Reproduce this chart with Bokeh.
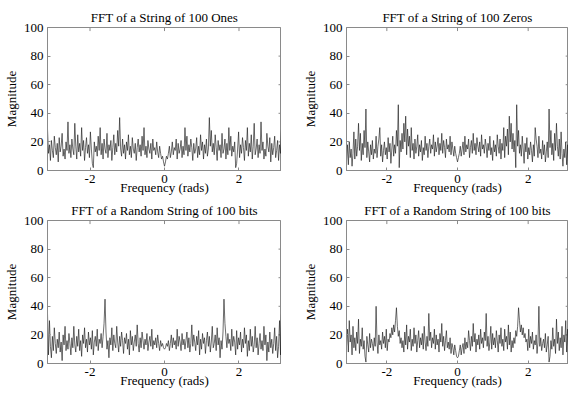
import numpy as np
from bokeh.plotting import figure
from bokeh.layouts import column, row, Spacer
from bokeh.models import Range1d, FixedTicker
from bokeh.embed import file_html
from bokeh.resources import INLINE

titles = ["FFT of a String of 100 Ones", "FFT of a String of 100 Zeros",
          "FFT of a Random String of 100 bits", "FFT of a Random String of 100 bits"]
x_label = "Frequency (rads)"
y_label = "Magnitude"
x_ticks = [-2, 0, 2]
y_ticks = [0, 20, 40, 60, 80, 100]

# frequency bins from -pi to pi
freq = np.linspace(-np.pi, np.pi, 241)

mag_ones = [29, 12, 18, 7, 21, 14, 9, 24, 16, 11,
            19, 6, 23, 13, 17, 26, 10, 15, 8, 20,
            14, 34, 12, 18, 9, 22, 15, 11, 33, 17,
            8, 25, 13, 19, 10, 30, 14, 21, 7, 16,
            23, 12, 18, 9, 27, 15, 5, 2, 20, 13,
            17, 10, 24, 14, 30, 11, 19, 8, 22, 15,
            12, 26, 9, 18, 14, 21, 7, 16, 25, 11,
            19, 13, 28, 17, 37, 15, 10, 22, 12, 18,
            8, 20, 14, 25, 11, 17, 9, 23, 15, 12,
            19, 7, 16, 22, 13, 18, 10, 24, 14, 30,
            11, 17, 9, 21, 15, 12, 19, 8, 22, 14,
            16, 11, 20, 13, 9, 17, 12, 8, 10, 6,
            3,
            6, 10, 8, 12, 17, 9, 13, 20, 11, 16,
            14, 22, 8, 19, 12, 15, 21, 9, 17, 11,
            30, 14, 24, 10, 18, 13, 22, 16, 7, 19,
            12, 15, 23, 9, 17, 11, 25, 14, 20, 8,
            18, 12, 22, 10, 15, 37, 17, 28, 13, 19,
            11, 25, 16, 7, 21, 14, 18, 9, 26, 12,
            15, 22, 8, 19, 11, 30, 14, 24, 10, 17,
            13, 20, 2, 5, 15, 27, 9, 18, 12, 23,
            16, 7, 21, 14, 30, 10, 19, 13, 25, 8,
            17, 33, 11, 15, 22, 9, 18, 12, 34, 14,
            20, 8, 15, 10, 26, 17, 13, 23, 6, 19,
            11, 16, 24, 9, 14, 21, 7, 18, 12, 29]

mag_zeros = [6, 18, 4, 20, 9, 15, 3, 12, 27, 8,
             22, 10, 17, 33, 14, 26, 7, 19, 11, 28,
             16, 43, 9, 20, 13, 6, 18, 11, 21, 8,
             15, 12, 24, 9, 17, 22, 30, 10, 18, 6,
             14, 20, 11, 16, 8, 23, 13, 19, 5, 15,
             24, 10, 18, 12, 28, 17, 46, 2, 21, 13,
             26, 15, 33, 20, 38, 11, 29, 17, 24, 9,
             30, 14, 19, 8, 22, 12, 17, 25, 10, 18,
             13, 21, 7, 16, 11, 24, 14, 19, 9, 17,
             22, 12, 18, 15, 25, 10, 20, 13, 17, 23,
             11, 19, 14, 26, 12, 21, 16, 9, 22, 15,
             18, 13, 24, 11, 20, 15, 10, 17, 12, 9,
             6,
             9, 12, 17, 10, 15, 20, 11, 24, 13, 18,
             15, 22, 9, 16, 21, 12, 26, 14, 19, 11,
             23, 17, 13, 20, 10, 25, 15, 18, 12, 22,
             17, 9, 19, 14, 24, 11, 16, 7, 21, 13,
             18, 10, 25, 17, 12, 22, 8, 19, 14, 30,
             9, 24, 17, 29, 11, 38, 20, 33, 15, 26,
             13, 21, 2, 46, 17, 28, 12, 18, 10, 24,
             15, 5, 19, 13, 23, 8, 16, 11, 20, 14,
             6, 18, 10, 30, 22, 17, 9, 24, 12, 15,
             8, 21, 11, 18, 6, 13, 20, 9, 43, 16,
             28, 11, 19, 7, 26, 14, 33, 17, 10, 22,
             8, 27, 12, 3, 15, 9, 20, 4, 18, 6]

mag_rand1 = [35, 6, 30, 12, 4, 19, 9, 25, 14, 7,
             17, 11, 22, 8, 15, 2, 20, 13, 26, 9,
             16, 10, 21, 14, 6, 18, 11, 26, 13, 8,
             19, 12, 24, 9, 16, 5, 20, 14, 25, 11,
             17, 8, 22, 13, 18, 10, 23, 6, 15, 19,
             12, 24, 9, 17, 14, 21, 11, 19, 28, 45,
             22, 10, 16, 4, 18, 13, 25, 9, 20, 14,
             11, 26, 15, 8, 19, 12, 22, 16, 7, 18,
             14, 21, 10, 17, 6, 23, 13, 19, 9, 15,
             20, 12, 27, 14, 8, 18, 11, 22, 16, 10,
             17, 13, 21, 9, 15, 19, 12, 24, 10, 16,
             13, 18, 11, 20, 14, 9, 16, 12, 14, 11,
             10,
             11, 14, 12, 16, 9, 14, 20, 11, 18, 13,
             16, 10, 24, 12, 19, 15, 9, 21, 13, 17,
             10, 16, 22, 11, 18, 8, 14, 27, 12, 20,
             15, 9, 19, 13, 23, 6, 17, 10, 21, 14,
             18, 7, 16, 22, 12, 19, 8, 15, 26, 11,
             14, 20, 9, 25, 13, 18, 4, 16, 10, 22,
             45, 28, 19, 11, 21, 14, 17, 9, 24, 12,
             19, 15, 6, 23, 10, 18, 13, 22, 8, 17,
             11, 25, 14, 20, 5, 16, 9, 24, 12, 19,
             8, 13, 26, 11, 18, 6, 14, 21, 10, 16,
             9, 26, 13, 20, 2, 15, 8, 22, 11, 17,
             7, 14, 25, 9, 19, 4, 12, 30, 6, 35]

mag_rand2 = [12, 24, 8, 30, 15, 20, 6, 26, 11, 18,
             9, 22, 14, 31, 7, 17, 12, 25, 10, 16,
             5, 1, 19, 13, 8, 21, 11, 17, 14, 9,
             18, 12, 40, 15, 7, 20, 13, 16, 10, 22,
             14, 19, 11, 24, 9, 17, 15, 21, 18, 25,
             20, 27, 22, 30, 39, 26, 19, 23, 14, 18,
             11, 16, 8, 22, 13, 27, 10, 19, 15, 24,
             9, 17, 12, 25, 14, 20, 8, 16, 23, 11,
             18, 13, 21, 10, 26, 15, 9, 19, 12, 35,
             16, 22, 11, 18, 14, 24, 10, 20, 13, 17,
             8, 21, 15, 28, 12, 19, 9, 16, 23, 11,
             15, 10, 18, 7, 14, 11, 6, 13, 9, 5,
             4,
             5, 9, 13, 6, 11, 14, 7, 18, 10, 15,
             11, 23, 16, 9, 19, 12, 28, 15, 21, 8,
             17, 13, 20, 10, 24, 14, 18, 11, 22, 16,
             35, 12, 19, 9, 15, 26, 10, 21, 13, 18,
             11, 23, 16, 8, 20, 14, 25, 12, 17, 9,
             24, 15, 19, 10, 27, 13, 22, 8, 16, 11,
             18, 14, 23, 19, 26, 39, 30, 22, 27, 20,
             25, 18, 21, 15, 17, 9, 24, 11, 19, 14,
             22, 10, 16, 13, 20, 7, 15, 40, 12, 18,
             9, 14, 17, 11, 21, 8, 13, 19, 1, 5,
             16, 10, 25, 12, 17, 7, 31, 14, 22, 9,
             18, 11, 26, 6, 20, 15, 30, 8, 24, 12]

FONT = "Liberation Serif"
FS = "13px"
FRAME_COLOR = "#8a8a8a"


def make(title, y, fw, fh):
    p = figure(frame_width=fw, frame_height=fh, output_backend="svg", toolbar_location=None,
               x_range=Range1d(-np.pi, np.pi), y_range=Range1d(0, 100),
               min_border_left=0, min_border_right=0, min_border_top=0, min_border_bottom=0,
               title=title)
    p.title.text_font = FONT
    p.title.text_font_size = FS
    p.title.text_font_style = "normal"
    p.title.text_color = "black"
    p.title.align = "center"
    p.title.standoff = 6
    p.xgrid.visible = False
    p.ygrid.visible = False
    p.outline_line_color = FRAME_COLOR
    p.outline_line_alpha = 1
    p.outline_line_width = 1
    p.background_fill_color = "white"
    p.border_fill_color = "white"

    p.xaxis.ticker = FixedTicker(ticks=x_ticks)
    p.yaxis.ticker = FixedTicker(ticks=y_ticks)
    p.xaxis.major_label_overrides = {t: str(t) for t in x_ticks}
    p.xaxis.axis_label = x_label
    p.yaxis.axis_label = y_label
    for ax in [p.xaxis[0], p.yaxis[0]]:
        ax.major_label_text_font = FONT
        ax.major_label_text_font_size = FS
        ax.major_label_text_color = "black"
        ax.axis_label_text_font = FONT
        ax.axis_label_text_font_size = FS
        ax.axis_label_text_font_style = "normal"
        ax.axis_label_text_color = "black"
        ax.major_tick_in = 3
        ax.major_tick_out = 0
        ax.minor_tick_line_color = None
        ax.axis_line_color = FRAME_COLOR
        ax.major_tick_line_color = FRAME_COLOR
    p.xaxis.major_label_standoff = 4
    p.xaxis.axis_label_standoff = -6
    p.yaxis.major_label_standoff = 4
    p.yaxis.axis_label_standoff = 2

    # inward tick marks on the top and right edges of the box
    p.segment(x0=x_ticks, y0=[100] * len(x_ticks), x1=x_ticks, y1=[97.5] * len(x_ticks),
              line_color=FRAME_COLOR, line_width=1)
    p.segment(x0=[np.pi] * len(y_ticks), y0=y_ticks, x1=[np.pi - 0.08] * len(y_ticks), y1=y_ticks,
              line_color=FRAME_COLOR, line_width=1)

    p.line(freq, y, line_color="#1e1e1e", line_width=0.65)
    return p


p1 = make(titles[0], mag_ones, 234, 143)
p2 = make(titles[1], mag_zeros, 222, 143)
p3 = make(titles[2], mag_rand1, 234, 143)
p4 = make(titles[3], mag_rand2, 222, 143)

layout = column(Spacer(height=4),
                row(p1, Spacer(width=18), p2),
                row(p3, Spacer(width=18), p4))
open("out.html", "w").write(file_html(layout, INLINE))
